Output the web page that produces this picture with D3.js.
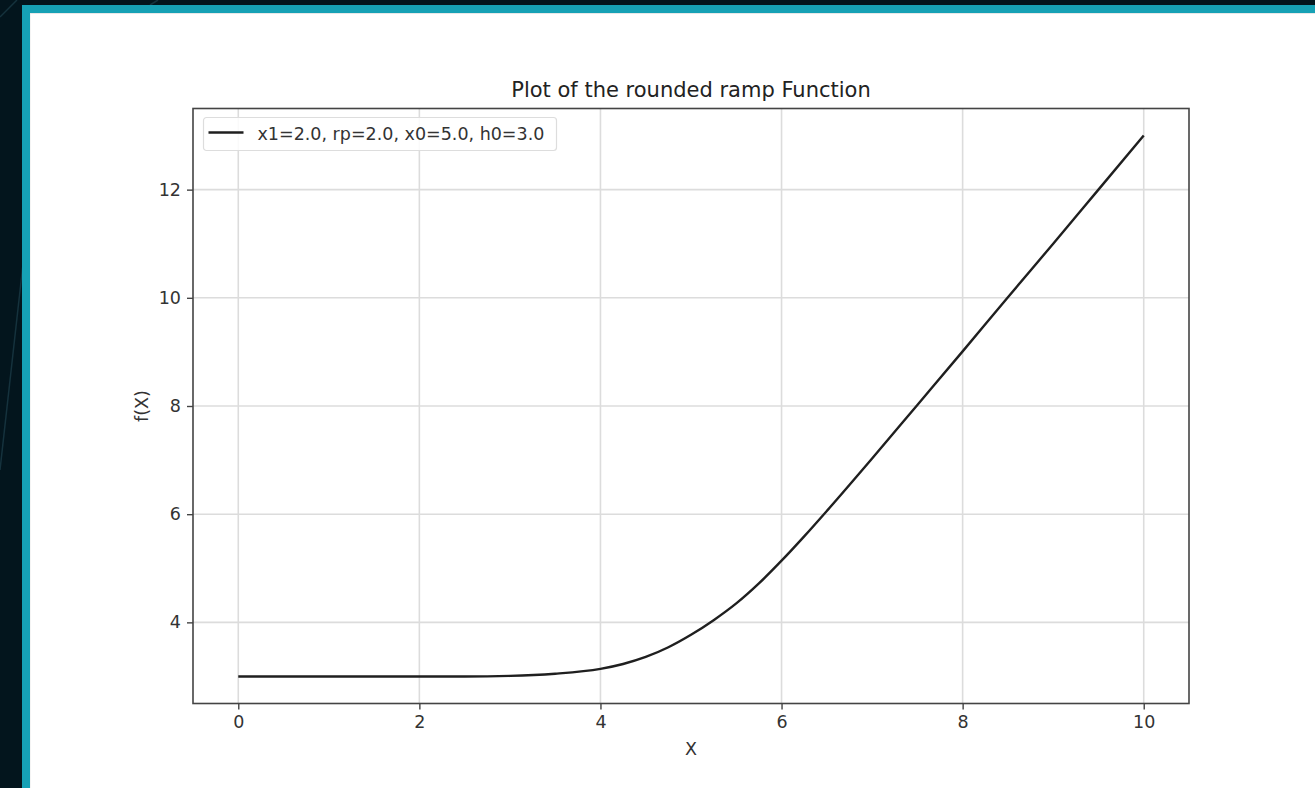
<!DOCTYPE html>
<html>
<head>
<meta charset="utf-8">
<script src="https://cdn.jsdelivr.net/npm/d3@7"></script>
<style>
  body { margin: 0; background: #03151d; overflow: hidden; }
  svg { display: block; font-family: "DejaVu Sans", sans-serif; }
</style>
</head>
<body>
<svg id="canvas"></svg>
<script>
// values
let xValues = [0, 0.5, 1, 1.5, 2, 2.5, 3, 3.5, 4, 4.25, 4.5, 4.75, 5, 5.25, 5.5, 5.75, 6, 6.25, 6.5, 7, 7.5, 8, 8.5, 9, 9.5, 10];
let fValues = [3.00, 3.00, 3.00, 3.00, 3.00, 3.00, 3.01, 3.05, 3.14, 3.23, 3.36, 3.54, 3.77, 4.04, 4.35, 4.72, 5.14, 5.59, 6.06, 7.03, 8.02, 9.01, 10.01, 11.0, 12.0, 13.0];
let xTicks = [0, 2, 4, 6, 8, 10];
let yTicks = [4, 6, 8, 10, 12];
let seriesLabel = 'x1=2.0, rp=2.0, x0=5.0, h0=3.0';
let titleText = 'Plot of the rounded ramp Function';

let width = 1315;
let height = 788;
let plot = { left: 193, right: 1189, top: 108.5, bottom: 703.5 };

let canvas = d3.select('#canvas')
    .attr('width', width)
    .attr('height', height);

// dark backdrop, teal frame, white panel
canvas.append('rect').attr('width', width).attr('height', height).attr('fill', '#03151d');
[[0, 17, 17, 0], [150, 5, 158, 0], [0, 470, 24, 255]].forEach(d => {
    canvas.append('line')
        .attr('x1', d[0]).attr('y1', d[1]).attr('x2', d[2]).attr('y2', d[3])
        .attr('stroke', '#15323d').attr('stroke-width', 1.5);
});
canvas.append('rect').attr('x', 22).attr('y', 5).attr('width', width - 22).attr('height', height - 5).attr('fill', '#16a1b5');
canvas.append('rect').attr('x', 30).attr('y', 13).attr('width', width - 30).attr('height', height - 13).attr('fill', '#e8e8e8');
canvas.append('rect').attr('x', 30.5).attr('y', 14).attr('width', width - 30.5).attr('height', height - 14).attr('fill', '#ffffff');

let xScale = d3.scaleLinear().domain([-0.5, 10.5]).range([plot.left, plot.right]);
let yScale = d3.scaleLinear().domain([2.5, 13.5]).range([plot.bottom, plot.top]);

// grid
let grid = canvas.append('g');
grid.selectAll('.vgrid').data(xTicks).enter().append('line')
    .attr('x1', d => xScale(d)).attr('x2', d => xScale(d))
    .attr('y1', plot.top).attr('y2', plot.bottom)
    .attr('stroke', '#dcdcdc').attr('stroke-width', 1.6);
grid.selectAll('.hgrid').data(yTicks).enter().append('line')
    .attr('x1', plot.left).attr('x2', plot.right)
    .attr('y1', d => yScale(d)).attr('y2', d => yScale(d))
    .attr('stroke', '#dcdcdc').attr('stroke-width', 1.6);

// curve
let points = xValues.map((x, i) => [x, fValues[i]]);
let line = d3.line()
    .x(d => xScale(d[0]))
    .y(d => yScale(d[1]))
    .curve(d3.curveMonotoneX);

canvas.append('path')
    .datum(points)
    .attr('d', line)
    .attr('fill', 'none')
    .attr('stroke', '#1f1f1f')
    .attr('stroke-width', 2.4);

// axes
let xAxis = d3.axisBottom(xScale).tickValues(xTicks).tickFormat(d3.format('d')).tickSize(6).tickPadding(6).tickSizeOuter(0);
let yAxis = d3.axisLeft(yScale).tickValues(yTicks).tickFormat(d3.format('d')).tickSize(6).tickPadding(6).tickSizeOuter(0);

let gx = canvas.append('g')
    .attr('transform', `translate(0, ${plot.bottom})`)
    .call(xAxis);
let gy = canvas.append('g')
    .attr('transform', `translate(${plot.left}, 0)`)
    .call(yAxis);

[gx, gy].forEach(g => {
    g.select('.domain').remove();
    g.selectAll('line').attr('stroke', '#444').attr('stroke-width', 1.4);
    g.selectAll('text').attr('fill', '#333').style('font-size', '17.5px').style('font-family', '"DejaVu Sans", sans-serif');
});

// frame
canvas.append('rect')
    .attr('x', plot.left).attr('y', plot.top)
    .attr('width', plot.right - plot.left).attr('height', plot.bottom - plot.top)
    .attr('fill', 'none').attr('stroke', '#444').attr('stroke-width', 1.6);

// labels
canvas.append('text')
    .attr('x', (plot.left + plot.right) / 2).attr('y', 97)
    .attr('text-anchor', 'middle').attr('fill', '#222')
    .style('font-size', '21px')
    .text(titleText);

canvas.append('text')
    .attr('x', (plot.left + plot.right) / 2).attr('y', 755)
    .attr('text-anchor', 'middle').attr('fill', '#333')
    .style('font-size', '17.5px')
    .text('X');

canvas.append('text')
    .attr('transform', `translate(148, ${(plot.top + plot.bottom) / 2}) rotate(-90)`)
    .attr('text-anchor', 'middle').attr('fill', '#333')
    .style('font-size', '17.5px')
    .text('f(X)');

// legend
let legend = canvas.append('g').attr('transform', 'translate(203.5, 117.5)');
legend.append('rect')
    .attr('width', 353).attr('height', 33).attr('rx', 3)
    .attr('fill', 'rgba(255,255,255,0.85)')
    .attr('stroke', '#dddddd').attr('stroke-width', 1.2);
legend.append('line')
    .attr('x1', 5).attr('x2', 40).attr('y1', 15).attr('y2', 15)
    .attr('stroke', '#1f1f1f').attr('stroke-width', 2.4);
legend.append('text')
    .attr('x', 54).attr('y', 22)
    .attr('fill', '#333')
    .style('font-size', '17.5px')
    .text(seriesLabel);
</script>
</body>
</html>
